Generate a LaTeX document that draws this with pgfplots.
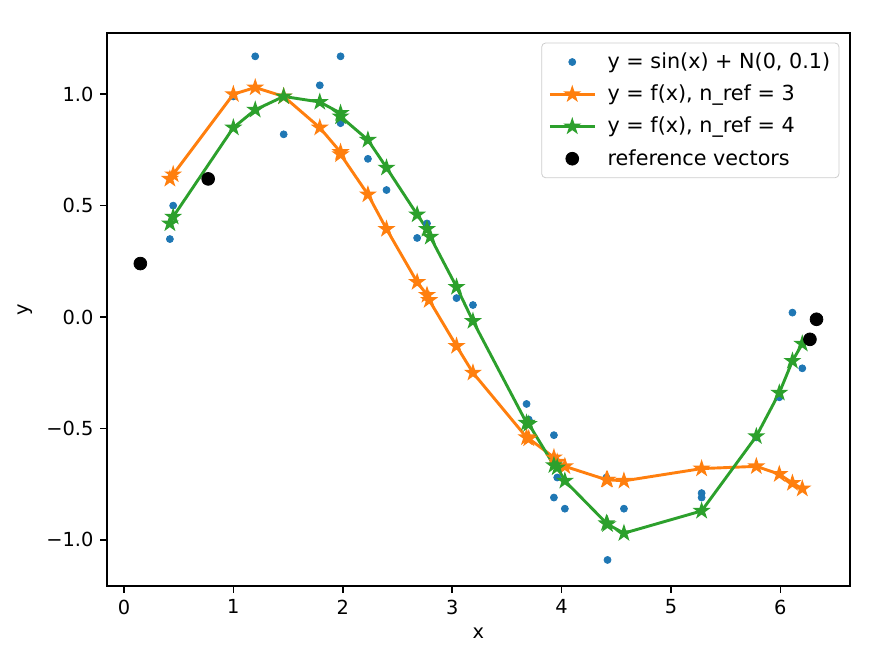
\documentclass[border=0pt]{standalone}
\usepackage{pgfplots}
\pgfplotsset{compat=1.18}
\usepackage{fontspec}
\setmainfont{DejaVu Sans}
\definecolor{c0}{HTML}{1F77B4}
\definecolor{c1}{HTML}{FF7F0E}
\definecolor{c2}{HTML}{2CA02C}
\pgfdeclareplotmark{fstar}{%
 \pgfpathmoveto{\pgfpointpolar{90}{\pgfplotmarksize}}%
 \pgfpathlineto{\pgfpointpolar{126}{0.382*\pgfplotmarksize}}%
 \pgfpathlineto{\pgfpointpolar{162}{\pgfplotmarksize}}%
 \pgfpathlineto{\pgfpointpolar{198}{0.382*\pgfplotmarksize}}%
 \pgfpathlineto{\pgfpointpolar{234}{\pgfplotmarksize}}%
 \pgfpathlineto{\pgfpointpolar{270}{0.382*\pgfplotmarksize}}%
 \pgfpathlineto{\pgfpointpolar{306}{\pgfplotmarksize}}%
 \pgfpathlineto{\pgfpointpolar{342}{0.382*\pgfplotmarksize}}%
 \pgfpathlineto{\pgfpointpolar{18}{\pgfplotmarksize}}%
 \pgfpathlineto{\pgfpointpolar{54}{0.382*\pgfplotmarksize}}%
 \pgfpathclose\pgfusepathqfillstroke}
\pgfplotsset{
 dotlegend/.style={legend image code/.code={\draw[##1] plot coordinates {(11.5pt,0pt)};}},
 linelegend/.style={legend image code/.code={\draw[mark repeat=2,mark phase=2,##1] plot coordinates {(0pt,0pt)(11.5pt,0pt)(23pt,0pt)};}},
}
\begin{document}
\begin{tikzpicture}
\begin{axis}[
 scale only axis, width=383.4pt, height=285.4pt,
 at={(0,0)}, anchor=south west,
 xmin=-0.155, xmax=6.636, ymin=-1.207, ymax=1.275,
 xtick={0,1,2,3,4,5,6},
 ytick={-1,-0.5,0,0.5,1},
 yticklabels={−1.0,−0.5,0.0,0.5,1.0},
 /pgf/number format/assume math mode=true,
 tick align=outside, major tick length=3.5pt,
 tick style={black, line width=0.8pt},
 axis line style={line width=0.8pt},
 xtick pos=bottom, ytick pos=left,
 tick label style={font=\fontsize{10}{12}\selectfont},
 xlabel={x}, ylabel={y},
 label style={font=\fontsize{10}{12}\selectfont},
 legend style={at={(rel axis cs:1,1)}, anchor=north east, xshift=-5.5pt, yshift=-5pt,
   draw=black!20, rounded corners=2pt, fill=white, font=\fontsize{10.7}{12.5}\selectfont,
   row sep=5pt, inner xsep=3.5pt, inner ysep=4pt,
   nodes={inner xsep=1pt, inner ysep=1pt},
   /tikz/every odd column/.style={column sep=5pt}},
 legend cell align=left,
]
\addplot[only marks, mark=*, mark size=1.8pt, color=c0, draw=none, fill=c0, dotlegend] table {
0.42 0.35
0.45 0.50
1.00 0.99
1.20 1.17
1.46 0.82
1.79 1.04
1.98 1.17
1.98 0.87
2.23 0.71
2.40 0.57
2.68 0.355
2.77 0.42
3.04 0.085
3.19 0.054
3.68 -0.39
3.70 -0.46
3.93 -0.53
3.96 -0.72
3.93 -0.81
4.03 -0.86
4.41 -0.72
4.42 -1.09
4.57 -0.86
5.28 -0.79
5.28 -0.81
5.78 -0.54
5.99 -0.36
6.11 0.02
6.20 -0.23
};
\addlegendentry{y = sin(x) + N(0, 0.1)}
\addplot[color=c1, line width=1.5pt, mark=fstar, mark size=3.6pt, mark options={line width=0.8pt}, linelegend] table {
0.42 0.62
0.45 0.64
1.00 1.00
1.20 1.03
1.46 0.99
1.79 0.85
1.98 0.74
1.98 0.73
2.23 0.55
2.40 0.395
2.68 0.157
2.77 0.099
2.79 0.076
3.04 -0.13
3.19 -0.25
3.68 -0.54
3.70 -0.545
3.93 -0.63
3.96 -0.65
4.03 -0.67
4.41 -0.73
4.42 -0.73
4.57 -0.735
5.28 -0.68
5.78 -0.67
5.99 -0.705
6.11 -0.745
6.20 -0.77
};
\addlegendentry{y = f(x), n\_ref = 3}
\addplot[color=c2, line width=1.5pt, mark=fstar, mark size=3.6pt, mark options={line width=0.8pt}, linelegend] table {
0.42 0.42
0.45 0.45
1.00 0.85
1.20 0.93
1.46 0.99
1.79 0.965
1.98 0.915
1.98 0.90
2.23 0.795
2.40 0.67
2.68 0.46
2.77 0.395
2.80 0.36
3.04 0.135
3.19 -0.018
3.68 -0.475
3.70 -0.48
3.93 -0.665
3.96 -0.675
4.03 -0.735
4.41 -0.925
4.42 -0.93
4.57 -0.97
5.28 -0.87
5.78 -0.535
5.99 -0.34
6.11 -0.197
6.20 -0.12
};
\addlegendentry{y = f(x), n\_ref = 4}
\addplot[only marks, mark=*, mark size=3.3pt, color=black, dotlegend] table {
0.15 0.24
0.77 0.62
6.27 -0.10
6.33 -0.01
};
\addlegendentry{reference vectors}
\end{axis}
\path (0,0) ++(-55.2pt,-36.6pt) rectangle ++(460.8pt,339pt);
\end{tikzpicture}
\end{document}
